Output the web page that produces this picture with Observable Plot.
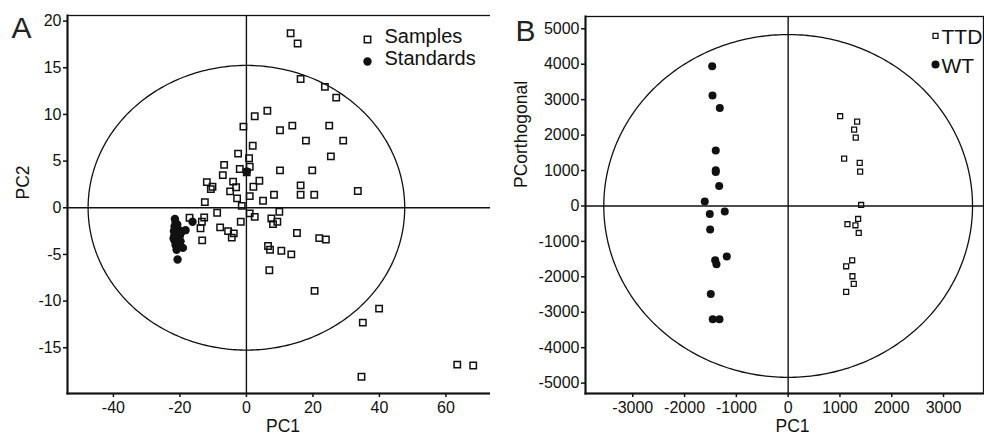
<!DOCTYPE html>
<html>
<head>
<meta charset="utf-8">
<script src="https://cdn.jsdelivr.net/npm/d3@7"></script>
<script src="https://cdn.jsdelivr.net/npm/@observablehq/plot@0.6"></script>
<style>
  html, body { margin: 0; padding: 0; background: #fff; }
  #wrap { position: relative; width: 984px; height: 435px; overflow: hidden; font-family: "Liberation Sans", Arial, sans-serif; }
  #panelA { position: absolute; left: 0; top: 0; }
  #panelB { position: absolute; left: 490px; top: 0; }
  svg { overflow: visible; }
</style>
</head>
<body>
<div id="wrap"><div id="panelA"></div><div id="panelB"></div></div>
<script>
// ---------- Panel A data ----------
const samplesX = [13.3, 15.4, 16.3, 23.6, 27.0, 6.3, 2.5, -0.9, 13.8, 10.1, 24.9, 17.9, 29.1, 1.9, 25.4, 0.8, 1.0, 0.1, 10.1, 19.8,
  3.9, 2.1, 16.3, 1.0, 8.3, 16.3, 20.4, 33.5, 5.0, -1.4, 1.0, 2.5, 9.9, 7.5, 9.3, 8.0, -1.7, 15.2, 21.9, 23.9,
  6.5, 7.1, 10.5, 13.5, 6.9, 20.5, 39.9, 35.0, 34.6, 63.4, 68.2, -2.5, -6.7, -2.0, -7.1, -11.9, -4.0, -10.2, -10.7, -3.1,
  -4.9, -2.8, -12.5, -8.8, -17.1, -12.7, -13.4, -13.8, -7.9, -5.5, -3.8, -4.4, -13.3];
const samplesY = [18.7, 17.6, 13.8, 12.95, 11.8, 10.4, 9.8, 8.7, 8.8, 8.3, 8.8, 7.2, 7.2, 6.65, 5.5, 5.3, 4.4, 3.8, 4.0, 4.0,
  2.9, 2.25, 2.4, 1.25, 1.4, 1.4, 1.4, 1.8, 0.75, 0.2, -0.6, -0.97, -0.43, -1.15, -1.5, -1.75, -1.5, -2.7, -3.25, -3.4,
  -4.1, -4.5, -4.6, -5.0, -6.7, -8.9, -10.8, -12.3, -18.1, -16.8, -16.9, 5.8, 4.6, 4.15, 3.5, 2.75, 2.8, 2.25, 2.0, 2.2,
  1.75, 1.0, 0.6, -0.54, -1.07, -1.04, -1.5, -2.2, -2.1, -2.5, -2.75, -3.2, -3.5];
const standardsX = [-21.5, -21.3, -21.6, -21.0, -21.8, -21.2, -20.6, -21.7, -21.1, -20.4, -21.5, -20.9, -21.3, -20.6, -20.0,
  -20.2, -19.8, -21.9, -20.8, -19.5, -18.3, -16.2, -19.1, -20.7, -20.0, -21.0, 0.1];
const standardsY = [-1.2, -1.6, -2.0, -2.2, -2.5, -2.7, -2.9, -3.0, -3.3, -3.4, -3.6, -3.8, -4.0, -4.2, -3.0,
  -2.4, -3.6, -3.3, -1.8, -2.6, -2.4, -1.5, -4.3, -5.55, -4.0, -4.5, 3.9];
const ticksAX = [-40, -20, 0, 20, 40, 60];
const ticksAY = [-15, -10, -5, 0, 5, 10, 15, 20];
const ellipseARadii = [47.6, 15.25];
const legendA = ["Samples", "Standards"];

// ---------- Panel B data ----------
const ttdX = [1004, 1332, 1274, 1305, 1081, 1382, 1390, 1409, 1351, 1145, 1299, 1363, 1236, 1120, 1241, 1267, 1120];
const ttdY = [2532, 2382, 2156, 1930, 1338, 1214, 971, 28, -367, -516, -545, -762, -1533, -1702, -1984, -2201, -2427];
const wtX = [-1467, -1461, -1320, -1398, -1398, -1398, -1332, -1610, -1513, -1224, -1506, -1185, -1409, -1384, -1494, -1456, -1326];
const wtY = [3943, 3116, 2766, 1563, 1008, 960, 565, 124, -226, -158, -666, -1428, -1533, -1646, -2484, -3198, -3198];
const ticksBX = [-3000, -2000, -1000, 0, 1000, 2000, 3000];
const ticksBY = [-5000, -4000, -3000, -2000, -1000, 0, 1000, 2000, 3000, 4000, 5000];
const ellipseBRadii = [3560, 4837];
const legendB = ["TTD", "WT"];

const fmt = d => String(d);
const toPts = (xs, ys) => xs.map((x, i) => ({x, y: ys[i]}));
const ellipse = ([rx, ry]) => d3.range(0, 361).map(a => ({x: rx * Math.cos(a * Math.PI / 180), y: ry * Math.sin(a * Math.PI / 180)}));

function panel(o) {
  return Plot.plot({
    width: o.width, height: 435,
    marginLeft: o.ml, marginRight: o.mr, marginTop: o.mt, marginBottom: 42,
    style: {fontFamily: "Liberation Sans, Arial, sans-serif", color: "#111", background: "white", overflow: "visible"},
    x: {domain: o.xd, ticks: o.xt, tickFormat: fmt, tickSize: 4, tickPadding: 3, label: null},
    y: {domain: o.yd, ticks: o.yt, tickFormat: fmt, tickSize: 4, tickPadding: 2, label: null},
    marks: [
      Plot.axisX({ticks: o.xt, tickFormat: fmt, tickSize: 4, tickPadding: 4, fontSize: o.fs, label: null, stroke: "#111", strokeWidth: 1.5}),
      Plot.axisY({ticks: o.yt, tickFormat: fmt, tickSize: 4, tickPadding: 2, fontSize: o.fs, label: null, stroke: "#111", strokeWidth: 1.5}),
      Plot.frame({stroke: "#111", strokeWidth: 1.3}),
      Plot.frame({anchor: "left", stroke: "#111", strokeWidth: 2}),
      Plot.frame({anchor: "bottom", stroke: "#111", strokeWidth: 2}),
      Plot.ruleX([0], {stroke: "#111", strokeWidth: 1.4}),
      Plot.ruleY([0], {stroke: "#111", strokeWidth: 1.4}),
      Plot.line(ellipse(o.radii), {x: "x", y: "y", stroke: "#111", strokeWidth: 1.3}),
      Plot.dot(o.open, {x: "x", y: "y", symbol: "square", r: o.sqR, stroke: "#111", strokeWidth: o.sqW, fill: "none"}),
      Plot.dot(o.filled, {x: "x", y: "y", symbol: "circle", r: o.cR, fill: "#111", stroke: "none"}),
      // axis titles
      Plot.text([o.xlabel], {frameAnchor: "bottom", dy: 33, dx: o.xlDx, text: d => d, fontSize: 17.5, lineAnchor: "middle"}),
      Plot.text([o.ylabel], {frameAnchor: "left", dx: o.ylDx, dy: o.ylDy, text: d => d, fontSize: 17.5, rotate: -90, lineAnchor: "middle"}),
      // panel letter
      Plot.text([o.letter], {frameAnchor: "top-left", dx: o.letDx, dy: o.letDy, text: d => d, fontSize: 30, textAnchor: "start", lineAnchor: "middle", fill: "#222"}),
      // legend
      Plot.dot([o.legend[0]], {frameAnchor: "top-left", dx: o.lg.sx, dy: o.lg.sy, symbol: "square", r: o.sqR, stroke: "#111", strokeWidth: o.sqW, fill: "none"}),
      Plot.text([o.legend[0]], {frameAnchor: "top-left", dx: o.lg.tx, dy: o.lg.ty1, text: d => d, fontSize: o.lg.fs, textAnchor: "start", lineAnchor: "middle"}),
      Plot.dot([o.legend[1]], {frameAnchor: "top-left", dx: o.lg.sx, dy: o.lg.cy, symbol: "circle", r: o.cR, fill: "#111"}),
      Plot.text([o.legend[1]], {frameAnchor: "top-left", dx: o.lg.tx, dy: o.lg.ty2, text: d => d, fontSize: o.lg.fs, textAnchor: "start", lineAnchor: "middle"})
    ]
  });
}

const A = panel({
  width: 496, ml: 67, mr: 4, mt: 15,
  xd: [-53.8, 74], yd: [-19.9, 20.6], xt: ticksAX, yt: ticksAY, fs: 16,
  radii: ellipseARadii,
  open: toPts(samplesX, samplesY), filled: toPts(standardsX, standardsY),
  sqR: 3.6, sqW: 1.5, cR: 4.2,
  xlabel: "PC1", ylabel: "PC2", xlDx: 3, ylDx: -44, ylDy: -5,
  letter: "A", letDx: -56, letDy: 13,
  legend: legendA,
  lg: {sx: 300, sy: 24, tx: 317, ty1: 21.5, cy: 46, ty2: 43.5, fs: 20}
});
const B = panel({
  width: 494, ml: 95, mr: 1, mt: 16,
  xd: [-3913, 3772], yd: [-5293, 5347], xt: ticksBX, yt: ticksBY, fs: 16,
  radii: ellipseBRadii,
  open: toPts(ttdX, ttdY), filled: toPts(wtX, wtY),
  sqR: 2.8, sqW: 1.3, cR: 4,
  xlabel: "PC1", ylabel: "PCorthogonal", xlDx: 8, ylDx: -64, ylDy: -17,
  letter: "B", letDx: -70, letDy: 14.5,
  legend: legendB,
  lg: {sx: 350, sy: 19.3, tx: 356, ty1: 20.8, cy: 48, ty2: 49.8, fs: 21}
});
document.getElementById("panelA").appendChild(A);
document.getElementById("panelB").appendChild(B);
</script>
</body>
</html>
